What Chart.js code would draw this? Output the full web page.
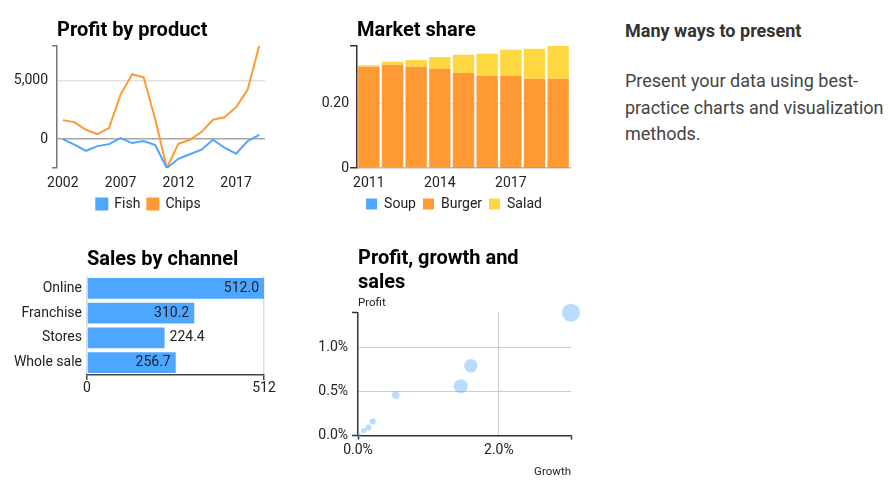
<!DOCTYPE html>
<html><head><meta charset="utf-8">
<script src="https://cdn.jsdelivr.net/npm/chart.js@4.4.1/dist/chart.umd.min.js"></script>
<style>
html,body{margin:0;padding:0;background:#fff;width:896px;height:486px;overflow:hidden;font-family:Roboto,sans-serif;}
canvas{position:absolute;}
#side{position:absolute;left:625px;top:0;width:265px;}
#side .h{position:absolute;left:0;top:20.5px;white-space:nowrap;font-size:18px;line-height:20px;font-weight:bold;color:#333;}
#side .p{position:absolute;left:0;top:68px;white-space:nowrap;font-size:18px;line-height:26.5px;color:#444;}
</style></head><body>
<canvas id="c1" width="297" height="221" style="left:0;top:0"></canvas>
<canvas id="c2" width="308" height="221" style="left:300px;top:0"></canvas>
<canvas id="c3" width="300" height="167" style="left:0;top:230px"></canvas>
<canvas id="c4" width="300" height="241" style="left:300px;top:240px"></canvas>
<div id="side"><div class="h">Many ways to present</div><div class="p">Present your data using best-<br>practice charts and visualization<br>methods.</div></div>
<script>
// ---- Profit by product ----
const years = ['2002','2003','2004','2005','2006','2007','2008','2009','2010','2011','2012','2013','2014','2015','2016','2017','2018','2019'];
const fish = [0,-480,-1000,-600,-430,85,-340,-170,-510,-2470,-1680,-1300,-910,-57,-740,-1250,-170,370];
const chips = [1620,1450,795,426,937,3806,5540,5280,1700,-2470,-400,-57,600,1650,1870,2730,4230,7980];
const profitTicks = [0,5000];
const yearTickLabels = ['2002','2007','2012','2017'];

// ---- Market share ----
const shareYears = ['2011','2012','2013','2014','2015','2016','2017','2018','2019'];
const soup = [0.003,0.003,0.003,0.003,0.001,0.001,0.001,0.001,0.001];
const burger = [0.313,0.3195,0.313,0.307,0.296,0.287,0.287,0.2775,0.2775];
const salad = [0.005,0.0095,0.021,0.0366,0.057,0.069,0.0816,0.094,0.1035];
const shareTicks = [0,0.2];
const shareTickLabels = ['2011','2014','2017'];

// ---- Sales by channel ----
const channels = ['Online','Franchise','Stores','Whole sale'];
const channelSales = [512.0,310.2,224.4,256.7];

// ---- Profit, growth and sales ----
const growth = [3.024,1.602,1.460,0.535,0.208,0.147,0.081,0.019];
const profit = [1.402,0.797,0.563,0.460,0.161,0.092,0.057,0.011];
const sales = [81,45,49,14,9,9,7,4];
const growthTicks = [0,2.0];
const profitPctTicks = [0,0.5,1.0];

Chart.defaults.font.family = 'Roboto';
Chart.defaults.color = '#222';
Chart.defaults.animation = false;

const BLUE = '#4da6ff', ORANGE = '#ff9933', YELLOW = '#ffd740';
const CLEAR = 'rgba(0,0,0,0)';
const titleFont = {family:'Roboto', size:20, weight:'bold', lineHeight:1.2};
const tickFont = {size:14, lineHeight:1.0};

function boundTicks(list){
  return s => { const vals=[s.min, ...list.filter(v=>v>s.min && v<s.max), s.max]; s.ticks = vals.map(v=>({value:v})); };
}
function spacer(w){
  return {type:'linear', position:'right', afterFit:s=>{s.width=w;}, grid:{display:false, drawTicks:false}, border:{display:false}, ticks:{display:false}};
}
const legendOpts = {position:'bottom', labels:{boxWidth:11, boxHeight:11, padding:7, font:{size:14}, color:'#222'}};
const xLayoutGrid = {display:false, drawTicks:true, tickLength:8};

// Chart 1
const pMin = Math.min(...fish, ...chips), pMax = Math.max(...fish, ...chips);
new Chart(document.getElementById('c1'), {
  type:'line',
  data:{labels:years, datasets:[
    {label:'Fish', data:fish, borderColor:BLUE, backgroundColor:BLUE, borderWidth:2, pointRadius:0, tension:0},
    {label:'Chips', data:chips, borderColor:ORANGE, backgroundColor:ORANGE, borderWidth:2, pointRadius:0, tension:0}
  ]},
  options:{
    responsive:false, layout:{padding:0},
    plugins:{
      title:{display:true, text:'Profit by product', align:'start', fullSize:false, color:'#000', font:titleFont, padding:{top:18.5,bottom:3.2}},
      legend:legendOpts,
      tooltip:{enabled:false}
    },
    scales:{
      x:{offset:true, grid:xLayoutGrid, border:{display:false},
        ticks:{autoSkip:false, maxRotation:0, minRotation:0, padding:0, font:tickFont,
          callback:(v,i)=> yearTickLabels.includes(years[i]) ? years[i] : ''}},
      y:{min:pMin, max:pMax, afterBuildTicks:boundTicks(profitTicks), afterFit:s=>{s.width=57;},
        ticks:{autoSkip:false, padding:4, font:tickFont, callback:v=> profitTicks.includes(v) ? v.toLocaleString('en-US') : ''},
        grid:{lineWidth:1.5, tickWidth:1.5, tickLength:5,
          color:c=> c.tick && c.tick.value===0 ? '#a8a8a8' : (c.tick && profitTicks.includes(c.tick.value) ? '#e3e3e3' : CLEAR),
          tickColor:c=> c.tick && profitTicks.includes(c.tick.value) ? CLEAR : '#777'},
        border:{color:'#777', width:1.5}},
      pad:spacer(32)
    }
  }
});

// Chart 2
const shareTotals = soup.map((v,i)=> v + burger[i] + salad[i]);
const sMax = Math.max(...shareTotals);
new Chart(document.getElementById('c2'), {
  type:'bar',
  data:{labels:shareYears, datasets:[
    {label:'Soup', data:soup, backgroundColor:BLUE},
    {label:'Burger', data:burger, backgroundColor:ORANGE},
    {label:'Salad', data:salad, backgroundColor:YELLOW}
  ]},
  options:{
    responsive:false, layout:{padding:0},
    datasets:{bar:{barPercentage:0.9, categoryPercentage:1.0}},
    plugins:{
      title:{display:true, text:'Market share', align:'start', fullSize:false, color:'#000', font:titleFont, padding:{top:18.5,bottom:3.2}},
      legend:legendOpts,
      tooltip:{enabled:false}
    },
    scales:{
      x:{stacked:true, grid:xLayoutGrid, border:{color:'#bbb', width:1.5},
        ticks:{autoSkip:false, maxRotation:0, minRotation:0, padding:0, font:tickFont,
          callback:(v,i)=> shareTickLabels.includes(shareYears[i]) ? shareYears[i] : ''}},
      y:{stacked:true, min:0, max:sMax, afterBuildTicks:boundTicks(shareTicks), afterFit:s=>{s.width=57;},
        ticks:{autoSkip:false, padding:1, font:tickFont, callback:v=> shareTicks.includes(v) ? (v===0 ? '0' : v.toFixed(2)) : ''},
        grid:{lineWidth:1.5, tickWidth:1.5, tickLength:7,
          color:c=> c.tick && c.tick.value!==0 && shareTicks.includes(c.tick.value) ? '#e6e6e6' : CLEAR,
          tickColor:c=> c.tick && c.tick.value!==0 && shareTicks.includes(c.tick.value) ? CLEAR : '#333'},
        border:{color:'#333', width:1.5}},
      pad:spacer(38)
    }
  }
});

// Chart 3
const barLabelPlugin = {
  id:'barLabels',
  afterDatasetsDraw(chart){
    const meta = chart.getDatasetMeta(0), ctx = chart.ctx;
    ctx.save();
    ctx.font = '14px Roboto'; ctx.fillStyle = '#222'; ctx.textBaseline = 'middle';
    meta.data.forEach((bar,i)=>{
      const txt = channelSales[i].toFixed(1);
      const len = bar.x - bar.base;
      if (len > 80) { ctx.textAlign='right'; ctx.fillText(txt, bar.x - 5, bar.y); }
      else { ctx.textAlign='left'; ctx.fillText(txt, bar.x + 5, bar.y); }
    });
    ctx.restore();
  }
};
const cMax = Math.max(...channelSales);
new Chart(document.getElementById('c3'), {
  type:'bar',
  data:{labels:channels, datasets:[{label:'Sales', data:channelSales, backgroundColor:BLUE, barPercentage:0.84, categoryPercentage:1.0}]},
  options:{
    indexAxis:'y', responsive:false, layout:{padding:{left:0, right:36, top:0, bottom:0}},
    plugins:{
      title:{display:true, text:'Sales by channel', align:'start', fullSize:false, color:'#000', font:titleFont, padding:{top:18,bottom:4}},
      legend:{display:false}, tooltip:{enabled:false}
    },
    scales:{
      x:{min:0, max:cMax, afterBuildTicks:boundTicks([]),
        ticks:{autoSkip:false, maxRotation:0, padding:1.5, font:tickFont, callback:v=> String(v)},
        grid:{lineWidth:1.5, tickWidth:1.5, tickLength:5, color:'#dcdcdc', tickColor:'#444'},
        border:{color:'#444', width:1.5}},
      y:{afterFit:s=>{s.width=87;}, grid:{display:false, drawTicks:false}, border:{display:false},
        ticks:{padding:5, font:{size:14}}}
    }
  },
  plugins:[barLabelPlugin]
});

// Chart 4
const axisNamePlugin = {
  id:'axisName',
  afterDraw(chart){
    const {ctx, chartArea} = chart;
    ctx.save();
    ctx.font = '11.5px Roboto'; ctx.fillStyle = '#222'; ctx.textAlign = 'left'; ctx.textBaseline = 'middle';
    ctx.fillText('Profit', chartArea.left, chartArea.top - 10);
    ctx.restore();
  }
};
const gMax = Math.max(...growth), prMax = Math.max(...profit);
new Chart(document.getElementById('c4'), {
  type:'bubble',
  data:{datasets:[{label:'Products', data:growth.map((g,i)=>({x:g, y:profit[i], r:Math.sqrt(sales[i])})),
    backgroundColor:'rgba(77,166,255,0.4)', borderWidth:0, hoverBorderWidth:0, clip:false}]},
  options:{
    responsive:false, layout:{padding:{left:0, right:29, top:0, bottom:0}},
    plugins:{
      title:{display:true, text:['Profit, growth and','sales'], align:'start', fullSize:false, color:'#000', font:titleFont, padding:{top:7,bottom:17.7}},
      legend:{display:false}, tooltip:{enabled:false}
    },
    scales:{
      x:{min:0, max:gMax, afterBuildTicks:boundTicks(growthTicks),
        ticks:{autoSkip:false, maxRotation:0, padding:3.5, font:tickFont, callback:v=> growthTicks.includes(v) ? v.toFixed(1)+'%' : ''},
        grid:{lineWidth:1, tickWidth:1.5, tickLength:4,
          color:c=> c.tick && c.tick.value!==0 && growthTicks.includes(c.tick.value) ? '#cccccc' : CLEAR,
          tickColor:c=> c.tick && c.tick.value!==0 && growthTicks.includes(c.tick.value) ? CLEAR : '#333'},
        border:{color:'#333', width:1.5},
        title:{display:true, text:'Growth', align:'end', color:'#222', font:{size:11.5, lineHeight:1.2}, padding:{top:4.6,bottom:2}}},
      y:{min:0, max:prMax, afterBuildTicks:boundTicks(profitPctTicks), afterFit:s=>{s.width=58;},
        ticks:{autoSkip:false, padding:4, font:tickFont, callback:v=> profitPctTicks.includes(v) ? v.toFixed(1)+'%' : ''},
        grid:{lineWidth:1, tickWidth:1.5, tickLength:6,
          color:c=> c.tick && c.tick.value!==0 && profitPctTicks.includes(c.tick.value) ? '#cccccc' : CLEAR,
          tickColor:c=> c.tick && c.tick.value!==0 && profitPctTicks.includes(c.tick.value) ? CLEAR : '#333'},
        border:{color:'#333', width:1.5}}
    }
  },
  plugins:[axisNamePlugin]
});
</script>
</body></html>
